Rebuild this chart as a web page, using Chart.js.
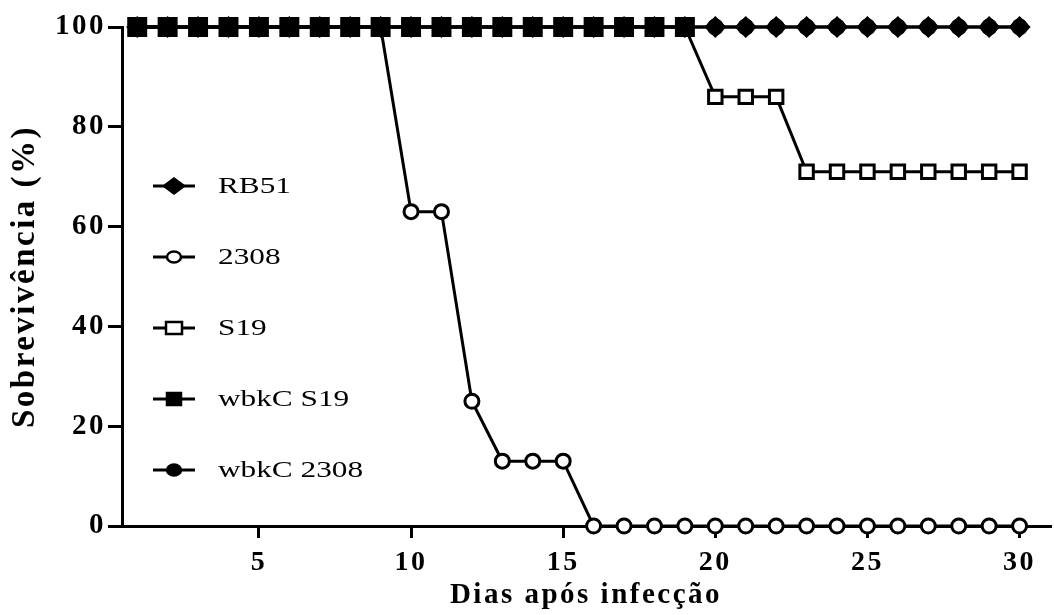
<!DOCTYPE html>
<html>
<head>
<meta charset="utf-8">
<script src="https://cdn.jsdelivr.net/npm/chart.js@4/dist/chart.umd.min.js"></script>
<style>
  html, body { margin: 0; padding: 0; background: #fff; }
  #wrap { width: 1054px; height: 615px; }
</style>
</head>
<body>
<div id="wrap"><canvas id="surv-chart" width="1054" height="615"></canvas></div>
<script>
// dias e sobrevivencia (%)
var days = [1, 2, 3, 4, 5, 6, 7, 8, 9, 10, 11, 12, 13, 14, 15, 16, 17, 18, 19, 20, 21, 22, 23, 24, 25, 26, 27, 28, 29, 30];
var rb51 = [100, 100, 100, 100, 100, 100, 100, 100, 100, 100, 100, 100, 100, 100, 100, 100, 100, 100, 100, 100, 100, 100, 100, 100, 100, 100, 100, 100, 100, 100];
var s2308 = [100, 100, 100, 100, 100, 100, 100, 100, 100, 63, 63, 25, 13, 13, 13, 0, 0, 0, 0, 0, 0, 0, 0, 0, 0, 0, 0, 0, 0, 0];
var s19 = [100, 100, 100, 100, 100, 100, 100, 100, 100, 100, 100, 100, 100, 100, 100, 100, 100, 100, 100, 86, 86, 86, 71, 71, 71, 71, 71, 71, 71, 71];
var wbkcS19 = [100, 100, 100, 100, 100, 100, 100, 100, 100, 100, 100, 100, 100, 100, 100, 100, 100, 100, 100];
var wbkc2308 = [100, 100, 100, 100, 100, 100, 100, 100, 100, 100, 100, 100, 100, 100, 100, 100, 100, 100, 100, 100, 100, 100, 100, 100, 100, 100, 100, 100, 100, 100];
var xTicks = [5, 10, 15, 20, 25, 30];
var yTicks = [0, 20, 40, 60, 80, 100];
var labels = ['RB51', '2308', 'S19', 'wbkC S19', 'wbkC 2308'];

function pts(vals) {
  return vals.map(function (v, i) { return { x: days[i], y: v }; });
}

var serif = '"Liberation Serif", "Times New Roman", serif';

var survData = {
  datasets: [
    { label: labels[3], data: pts(wbkcS19), pointStyle: 'rect', pointRadius: 12, order: 1,
      pointBackgroundColor: '#000', legendStyle: 'rect', legendFill: true },
    { label: labels[4], data: pts(wbkc2308), pointStyle: 'circle', pointRadius: 7, order: 2,
      pointBackgroundColor: '#000', legendStyle: 'circle', legendFill: true },
    { label: labels[0], data: pts(rb51), pointStyle: 'rectRot', pointRadius: 9, order: 3,
      pointBackgroundColor: '#000', legendStyle: 'diamond', legendFill: true },
    { label: labels[2], data: pts(s19), pointStyle: 'rect', pointRadius: 9.5, order: 4,
      pointBackgroundColor: '#fff', legendStyle: 'rect', legendFill: false },
    { label: labels[1], data: pts(s2308), pointStyle: 'circle', pointRadius: 7, order: 5,
      pointBackgroundColor: '#fff', legendStyle: 'circle', legendFill: false }
  ]
};
survData.datasets.forEach(function (ds) {
  ds.borderColor = '#000';
  ds.borderWidth = 3;
  ds.pointBorderColor = '#000';
  ds.pointBorderWidth = 3;
  ds.tension = 0;
  ds.clip = false;
});

// espacamento das letras nos textos dos eixos
var spacing = {
  id: 'spacing',
  beforeDraw: function (chart) { chart.ctx.letterSpacing = '2.5px'; }
};

// legenda desenhada dentro da area do grafico
var legendOrder = [2, 4, 3, 0, 1];
var insideLegend = {
  id: 'insideLegend',
  afterDraw: function (chart) {
    var ctx = chart.ctx;
    var left = chart.chartArea.left + 31;
    var top0 = 186;
    ctx.save();
    ctx.letterSpacing = '0px';
    legendOrder.forEach(function (idx, row) {
      var ds = chart.data.datasets[idx];
      var y = top0 + row * 71;
      ctx.strokeStyle = '#000';
      ctx.lineWidth = 3;
      ctx.beginPath();
      ctx.moveTo(left, y);
      ctx.lineTo(left + 42, y);
      ctx.stroke();
      var cx = left + 21;
      ctx.fillStyle = ds.legendFill ? '#000' : '#fff';
      ctx.lineWidth = 2.5;
      ctx.beginPath();
      if (ds.legendStyle === 'diamond') {
        ctx.moveTo(cx, y - 7.5); ctx.lineTo(cx + 10, y); ctx.lineTo(cx, y + 7.5); ctx.lineTo(cx - 10, y); ctx.closePath();
      } else if (ds.legendStyle === 'rect') {
        if (ds.legendFill) ctx.rect(cx - 7, y - 6, 14, 12);
        else ctx.rect(cx - 8, y - 6, 16, 12);
      } else {
        ctx.ellipse(cx, y, 7, 5.5, 0, 0, Math.PI * 2);
      }
      ctx.fill();
      ctx.stroke();
      ctx.save();
      ctx.translate(left + 65, y + 1);
      ctx.scale(1.36, 1);
      ctx.fillStyle = '#000';
      ctx.font = '23px ' + serif;
      ctx.textBaseline = 'middle';
      ctx.textAlign = 'left';
      ctx.fillText(ds.label, 0, 0);
      ctx.restore();
    });
    ctx.restore();
  }
};

var survCanvas = document.getElementById('surv-chart').getContext('2d');
var survChart = new Chart(survCanvas, {
  type: 'line',
  data: survData,
  plugins: [spacing, insideLegend],
  options: {
    responsive: false,
    animation: false,
    events: [],
    layout: { autoPadding: false, padding: { top: 27, right: 4, left: 0, bottom: 0 } },
    plugins: { legend: { display: false }, tooltip: { enabled: false } },
    scales: {
      x: {
        type: 'linear',
        min: 0.5,
        max: 31,
        afterBuildTicks: function (scale) {
          scale.ticks = xTicks.map(function (v) { return { value: v }; });
        },
        afterFit: function (scale) {
          scale.height = 89;
          scale.paddingLeft = 0;
          scale.paddingRight = 0;
        },
        border: { display: true, color: '#000', width: 3 },
        grid: { drawOnChartArea: false, drawTicks: true, tickLength: 12, color: '#000', lineWidth: 3 },
        ticks: { color: '#000', padding: 8, maxRotation: 0, font: { family: serif, size: 28, weight: 'bold' } },
        title: { display: true, text: 'Dias após infecção', color: '#000', padding: { top: 0, bottom: 2 },
                 font: { family: serif, size: 29, weight: 'bold' } }
      },
      y: {
        type: 'linear',
        min: 0,
        max: 100,
        afterBuildTicks: function (scale) {
          scale.ticks = yTicks.map(function (v) { return { value: v }; });
        },
        afterFit: function (scale) { scale.width = 122; },
        border: { display: true, color: '#000', width: 3 },
        grid: { drawOnChartArea: false, drawTicks: true, tickLength: 14, color: '#000', lineWidth: 3 },
        ticks: { color: '#000', padding: 2, font: { family: serif, size: 29, weight: 'bold' } },
        title: { display: true, text: 'Sobrevivência (%)', color: '#000', padding: { top: 6, bottom: 0 },
                 font: { family: serif, size: 33, weight: 'bold' } }
      }
    }
  }
});
</script>
</body>
</html>
